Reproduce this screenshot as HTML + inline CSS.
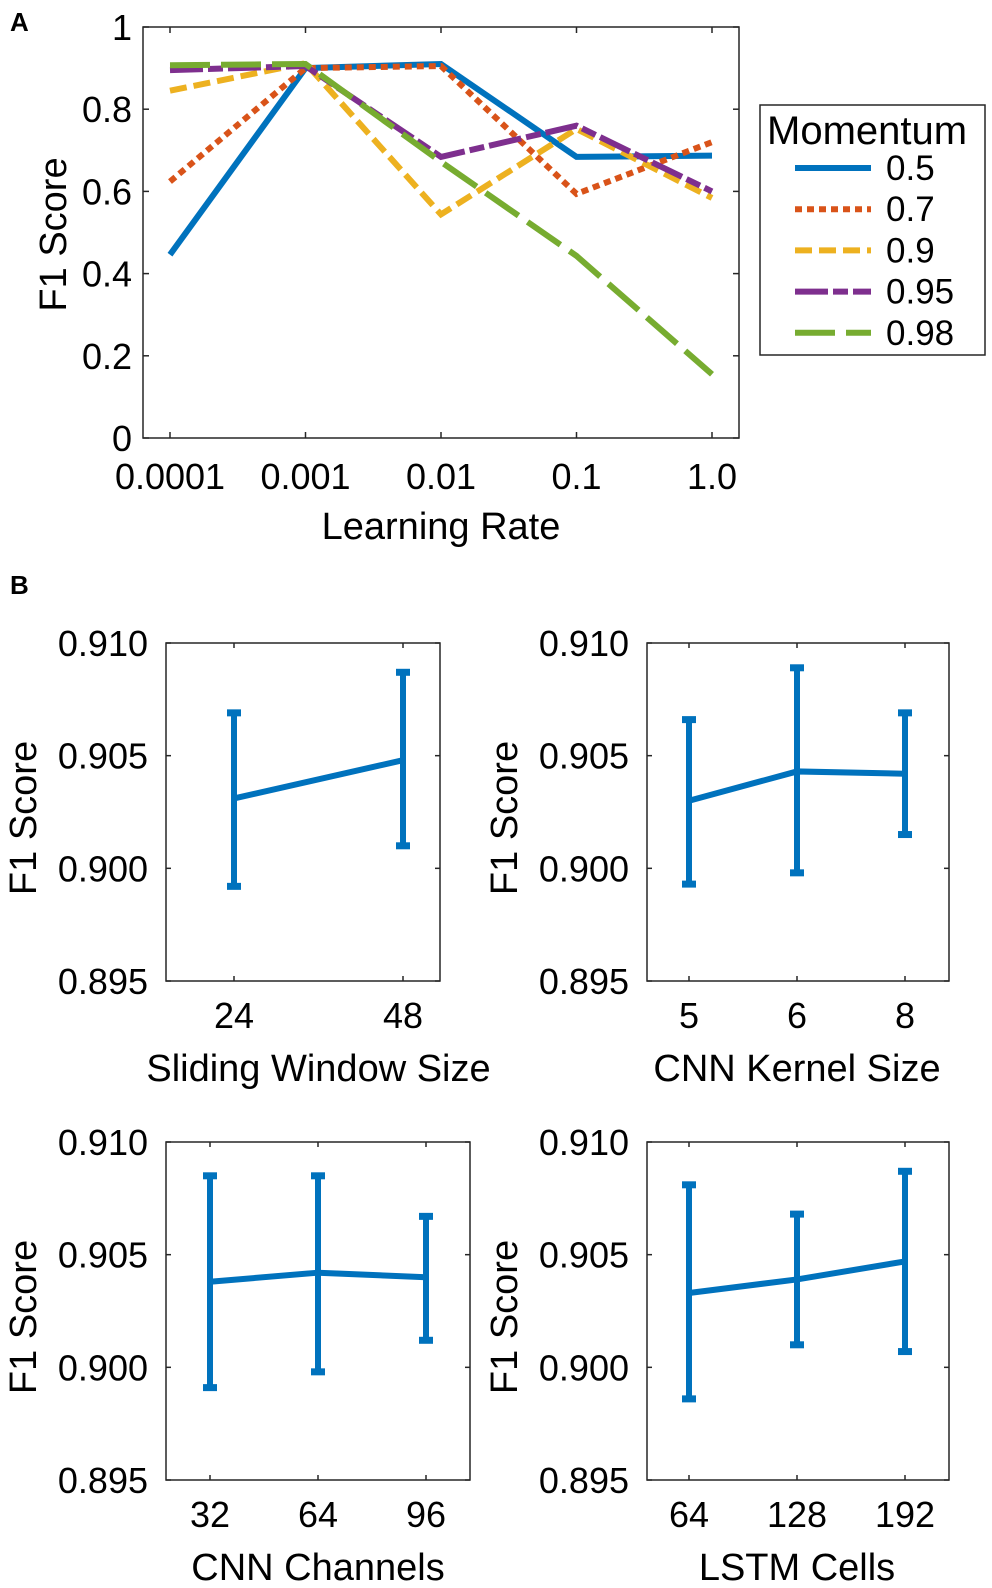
<!DOCTYPE html>
<html><head><meta charset="utf-8">
<style>
html,body{margin:0;padding:0;background:#fff;}
svg{display:block;font-family:"Liberation Sans",sans-serif;}
</style></head>
<body>
<svg id="fig" width="992" height="1588" viewBox="0 0 992 1588" xmlns="http://www.w3.org/2000/svg">
<text x="10" y="31" font-size="26" font-weight="bold">A</text>
<text x="10" y="594" font-size="26" font-weight="bold">B</text>
<g id="pa"></g>
<g id="pb"></g>
</svg>
<script>
// ---- Panel A data ----
const lrLabels = ["0.0001","0.001","0.01","0.1","1.0"];
const momentumLabels = ["0.5","0.7","0.9","0.95","0.98"];
const f1m05 = [0.446,0.900,0.910,0.684,0.687];
const f1m07 = [0.624,0.900,0.905,0.594,0.720];
const f1m09 = [0.845,0.912,0.544,0.752,0.584];
const f1m095 = [0.895,0.905,0.684,0.760,0.600];
const f1m098 = [0.907,0.910,0.672,0.443,0.155];
const yTicksA = [0,0.2,0.4,0.6,0.8,1];
const yTickLabelsA = ["0","0.2","0.4","0.6","0.8","1"];

// ---- Panel B data ----
const swCats = ["24","48"];
const swMean = [0.9031,0.9048];
const swLow = [0.8992,0.9010];
const swHigh = [0.9069,0.9087];
const kCats = ["5","6","8"];
const kMean = [0.9030,0.9043,0.9042];
const kLow = [0.8993,0.8998,0.9015];
const kHigh = [0.9066,0.9089,0.9069];
const chCats = ["32","64","96"];
const chMean = [0.9038,0.9042,0.9040];
const chLow = [0.8991,0.8998,0.9012];
const chHigh = [0.9085,0.9085,0.9067];
const lstmCats = ["64","128","192"];
const lstmMean = [0.9033,0.9039,0.9047];
const lstmLow = [0.8986,0.9010,0.9007];
const lstmHigh = [0.9081,0.9068,0.9087];
const yTicksB = [0.895,0.900,0.905,0.910];
const yTickLabelsB = ["0.895","0.900","0.905","0.910"];

const NS="http://www.w3.org/2000/svg";
function mk(tag, attrs, parent){
  const e=document.createElementNS(NS,tag);
  for(const k in attrs) e.setAttribute(k,attrs[k]);
  parent.appendChild(e); return e;
}
const TICKFONT=36;

// ===== Panel A =====
(function(){
  const g=document.getElementById('pa');
  const L=143,R=739,T=27,B=438;
  const x0=170, dx=135.5;
  const xs=i=>x0+i*dx;
  const ys=v=>B-(v-0)/(1-0)*(B-T);
  const series=[
    {name:"0.5",vals:f1m05,color:"#0072BD",dash:""},
    {name:"0.7",vals:f1m07,color:"#D95319",dash:"7 5"},
    {name:"0.9",vals:f1m09,color:"#EDB120",dash:"17 7"},
    {name:"0.95",vals:f1m095,color:"#7E2F8E",dash:"33 5 15 5"},
    {name:"0.98",vals:f1m098,color:"#77AC30",dash:"40 11"}
  ];
  series.forEach((s,si)=>{
    const pts=s.vals.map((v,i)=>xs(i)+","+ys(v)).join(" ");
    const p=mk('polyline',{points:pts,fill:"none",stroke:s.color,"stroke-width":6,"stroke-dasharray":s.dash,"stroke-linejoin":"miter"},g);
    
    
  });
  const box=mk('rect',{x:L,y:T,width:R-L,height:B-T,fill:"none",stroke:"#262626","stroke-width":1.5},g);
  
  
  yTicksA.forEach((v,i)=>{
    mk('line',{x1:L,x2:L+6,y1:ys(v),y2:ys(v),stroke:"#262626","stroke-width":1.5},g);
    mk('line',{x1:R,x2:R-6,y1:ys(v),y2:ys(v),stroke:"#262626","stroke-width":1.5},g);
    const t=mk('text',{x:132,y:ys(v)+13,"font-size":TICKFONT,"text-anchor":"end"},g);
    t.textContent=yTickLabelsA[i];
    
    
  });
  lrLabels.forEach((lab,i)=>{
    mk('line',{x1:xs(i),x2:xs(i),y1:B,y2:B-6,stroke:"#262626","stroke-width":1.5},g);
    mk('line',{x1:xs(i),x2:xs(i),y1:T,y2:T+6,stroke:"#262626","stroke-width":1.5},g);
    const t=mk('text',{x:xs(i),y:489,"font-size":TICKFONT,"text-anchor":"middle"},g);
    t.textContent=lab;
    
    
  });
  const xl=mk('text',{x:(L+R)/2,y:539,"font-size":38,"text-anchor":"middle"},g);
  xl.textContent="Learning Rate";
  
  
  const yl=mk('text',{x:0,y:0,"font-size":38,"text-anchor":"middle",transform:"translate(66,"+((T+B)/2+2)+") rotate(-90)"},g);
  yl.textContent="F1 Score";
  
  
  const lg=mk('g',{},g);
  
  
  mk('rect',{x:760,y:105,width:225,height:250,fill:"#fff",stroke:"#262626","stroke-width":1.5},lg);
  const lt=mk('text',{x:767,y:144,"font-size":40},lg);
  lt.textContent="Momentum";
  
  
  series.forEach((s,i)=>{
    const y=168+i*41.2;
    const ln=mk('line',{x1:795,x2:871,y1:y,y2:y,stroke:s.color,"stroke-width":6,"stroke-dasharray":s.dash},lg);
    
    
    const t=mk('text',{x:886,y:y+12,"font-size":35},lg);
    t.textContent=momentumLabels[i];
    
    
  });
})();

// ===== Panel B =====
function subplot(L,T,W,cats,mean,low,high,xlabel,name,tick0,tickStep){
  const g=mk('g',{},document.getElementById('pb'));
  
  
  const H=338;
  const R=L+W,B=T+H;
  const xsc=i=>tick0+i*tickStep;
  const ys=v=>B-(v-0.895)/(0.910-0.895)*H;
  const box=mk('rect',{x:L,y:T,width:W,height:H,fill:"none",stroke:"#262626","stroke-width":1.5},g);
  
  
  yTicksB.forEach((v,i)=>{
    mk('line',{x1:L,x2:L+5,y1:ys(v),y2:ys(v),stroke:"#262626","stroke-width":1.5},g);
    mk('line',{x1:R,x2:R-5,y1:ys(v),y2:ys(v),stroke:"#262626","stroke-width":1.5},g);
    const t=mk('text',{x:L-18,y:ys(v)+13,"font-size":TICKFONT,"text-anchor":"end"},g);
    t.textContent=yTickLabelsB[i];
    
    
  });
  cats.forEach((c,i)=>{
    mk('line',{x1:xsc(i),x2:xsc(i),y1:B,y2:B-5,stroke:"#262626","stroke-width":1.5},g);
    mk('line',{x1:xsc(i),x2:xsc(i),y1:T,y2:T+5,stroke:"#262626","stroke-width":1.5},g);
    const t=mk('text',{x:xsc(i),y:B+47,"font-size":TICKFONT,"text-anchor":"middle"},g);
    t.textContent=c;
    
    
  });
  const pl=mk('polyline',{points:mean.map((v,i)=>xsc(i)+","+ys(v)).join(" "),fill:"none",stroke:"#0072BD","stroke-width":6},g);
  
  
  cats.forEach((c,i)=>{
    const eb=mk('g',{},g);
    
    
    mk('line',{x1:xsc(i),x2:xsc(i),y1:ys(low[i]),y2:ys(high[i]),stroke:"#0072BD","stroke-width":6},eb);
    mk('line',{x1:xsc(i)-7,x2:xsc(i)+7,y1:ys(low[i]),y2:ys(low[i]),stroke:"#0072BD","stroke-width":7},eb);
    mk('line',{x1:xsc(i)-7,x2:xsc(i)+7,y1:ys(high[i]),y2:ys(high[i]),stroke:"#0072BD","stroke-width":7},eb);
  });
  const xl=mk('text',{x:xsc(0)+(xsc(cats.length-1)-xsc(0))/2,y:B+100,"font-size":38,"text-anchor":"middle"},g);
  xl.textContent=xlabel;
  
  
  const yl=mk('text',{x:0,y:0,"font-size":38,"text-anchor":"middle",transform:"translate("+(L-130)+","+(T+H/2+6)+") rotate(-90)"},g);
  yl.textContent="F1 Score";
  
  
}
subplot(166,643,274,swCats,swMean,swLow,swHigh,"Sliding Window Size","subplot-sliding-window",234,169);
subplot(647,643,302,kCats,kMean,kLow,kHigh,"CNN Kernel Size","subplot-kernel-size",689,108);
subplot(166,1142,304,chCats,chMean,chLow,chHigh,"CNN Channels","subplot-cnn-channels",210,108);
subplot(647,1142,302,lstmCats,lstmMean,lstmLow,lstmHigh,"LSTM Cells","subplot-lstm-cells",689,108);
</script>
</body></html>
